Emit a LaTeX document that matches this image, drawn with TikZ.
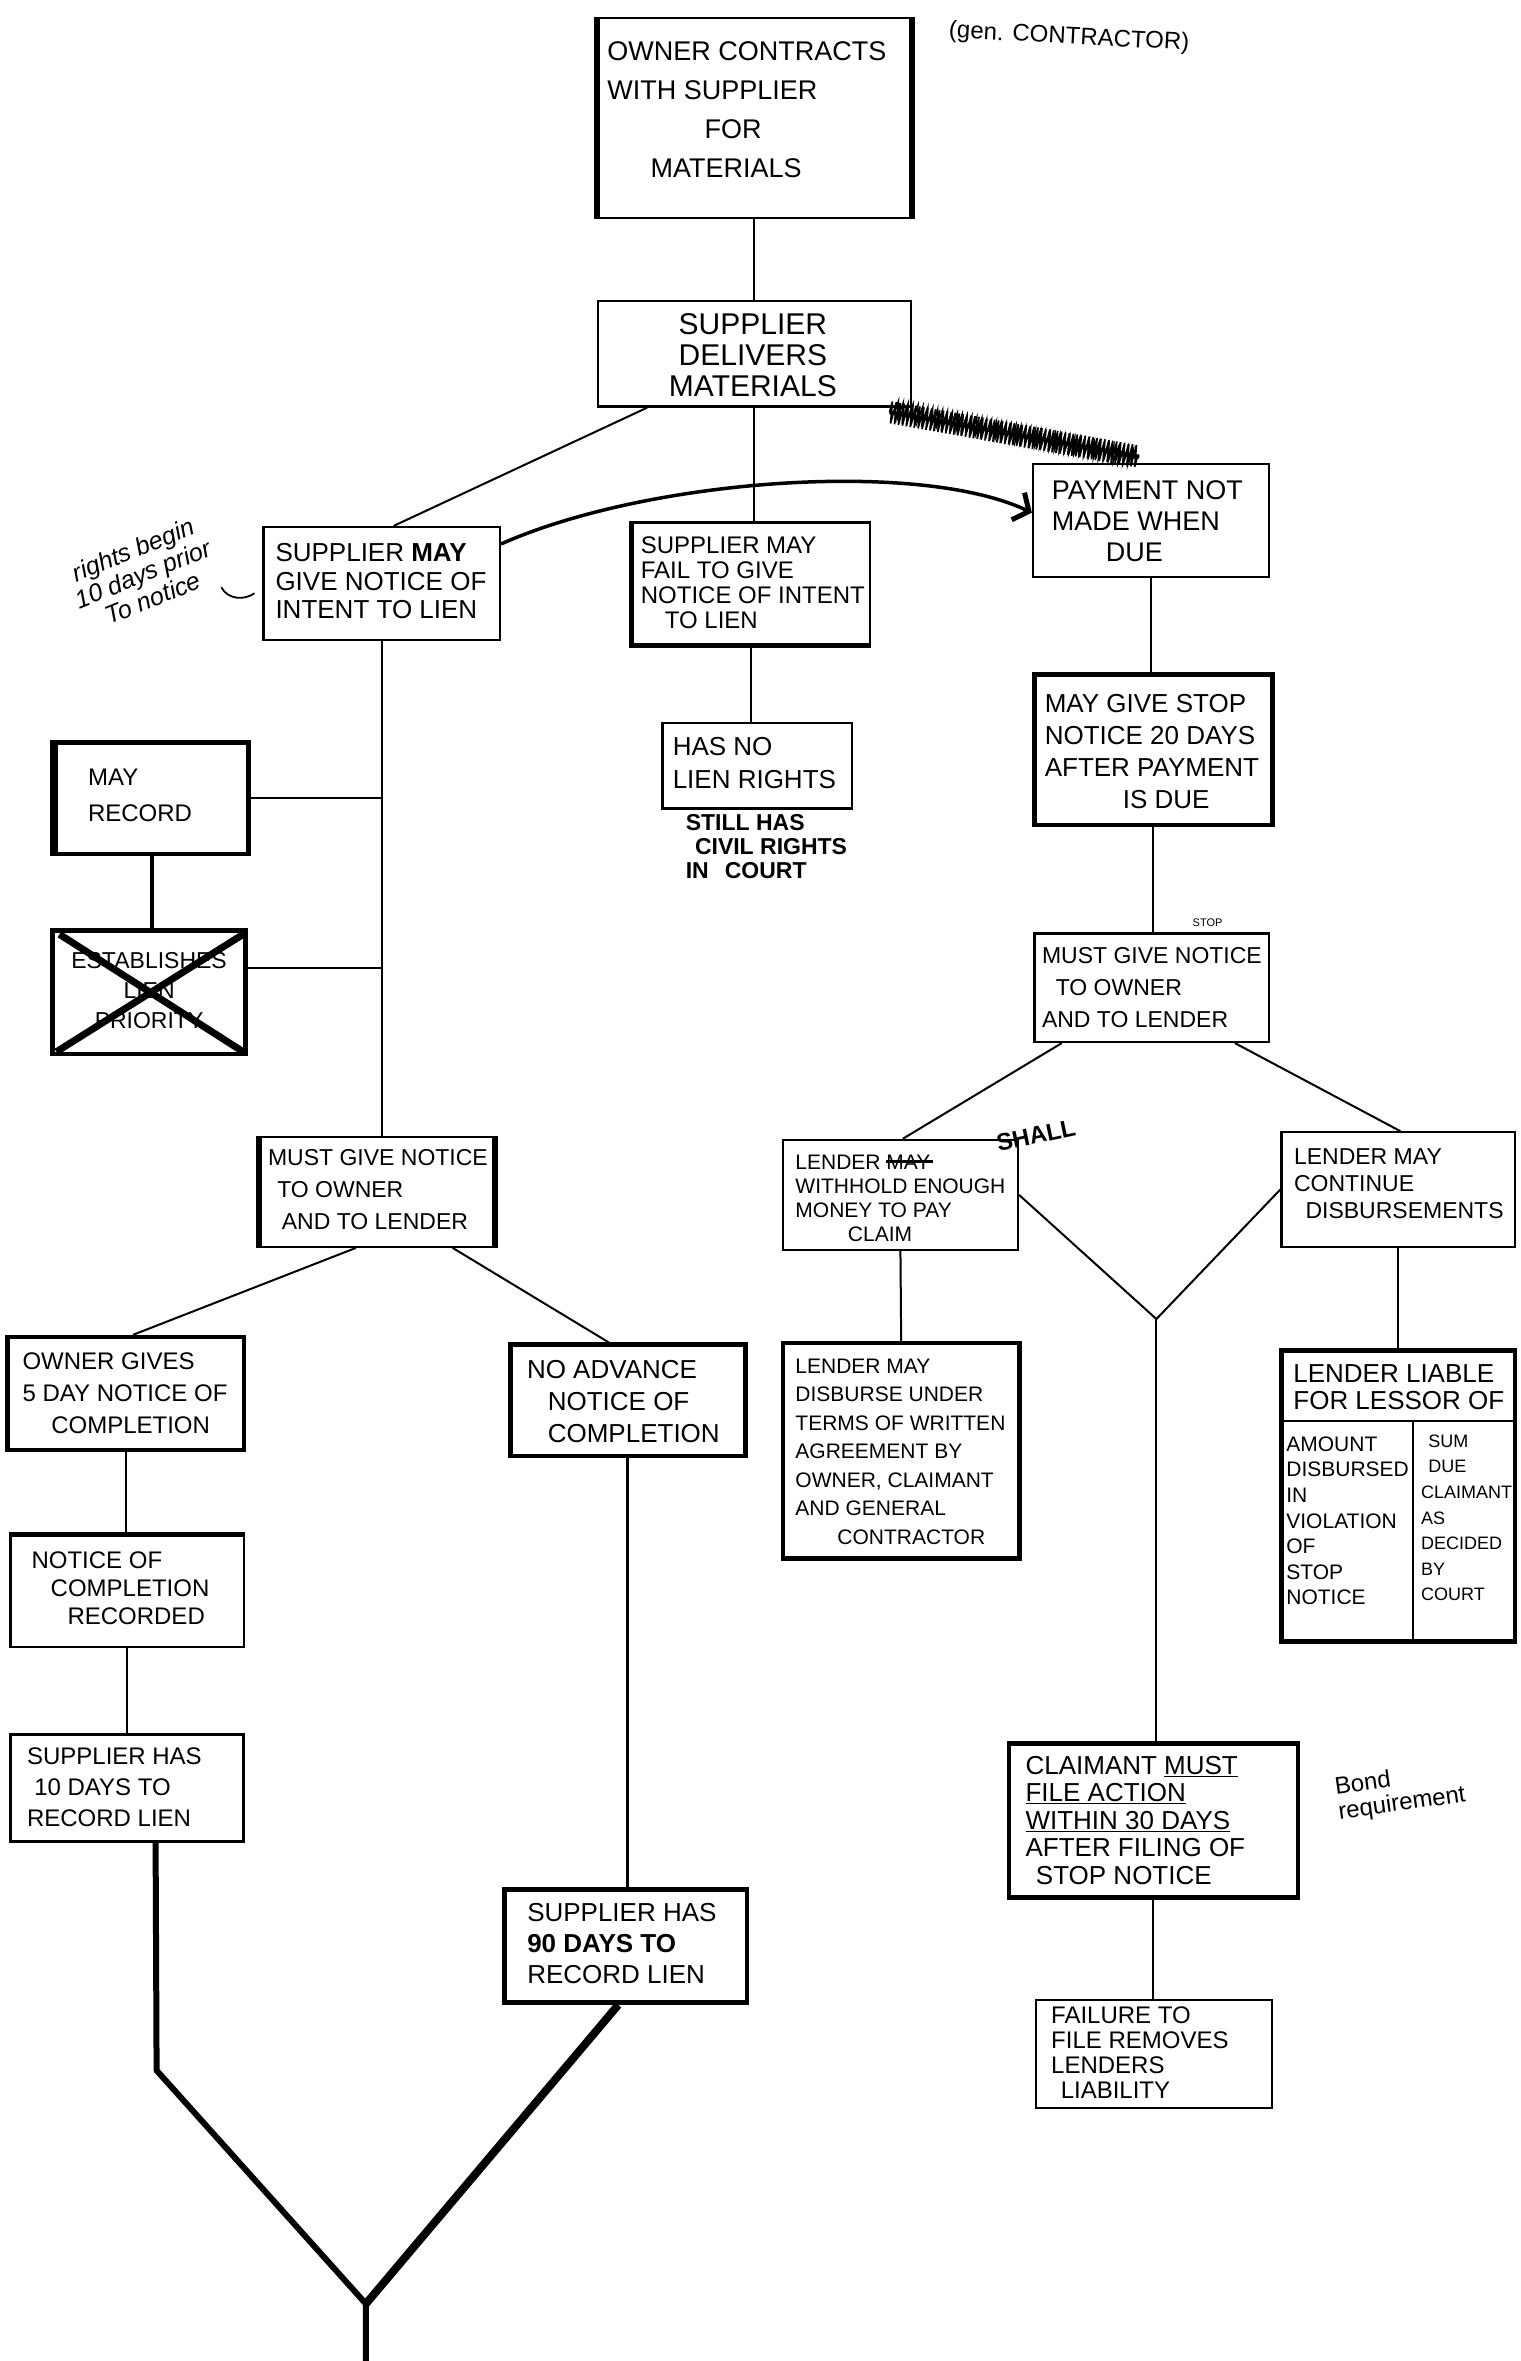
\documentclass[tikz,border=0pt]{standalone}
\usepackage{fontspec}
\setmainfont{Liberation Sans}
\usetikzlibrary{fit,calc,arrows.meta,decorations.pathmorphing}
\newcommand\hfs[2]{\fontsize{#1}{#2}\selectfont}
\newcommand\strk[1]{\leavevmode\rlap{\rule[0.3em]{2.2em}{3pt}}#1}
\begin{document}
\begin{tikzpicture}[x=1.506pt,y=-1.506pt,
  box/.style={draw, line width=2.2pt, inner sep=0pt},
  tbox/.style={draw, line width=4.5pt, inner sep=0pt},
  link/.style={line width=2pt},
  heavy/.style={line width=6pt},
  txt/.style={inner sep=0pt, align=left},
  side/.style={line width=6pt}]
\fill[white] (0,0) rectangle (1010,1568);
\useasboundingbox (0,0) rectangle (1010,1568);

% ---------- boxes ----------
\node[box, fit={(397,12) (605,145)}] (b1) {};
\node[box, fit={(397,200) (605,270)}] (b2) {};
\node[box, fit={(175,350) (332,425)}] (b3) {};
\node[box, fit={(420,347) (578,428)}] (b4) {};
\node[box, fit={(686,308) (843,383)}] (b5) {};
\node[box, fit={(440,480) (566,537)}] (b6) {};
\node[tbox, fit={(687,448) (845,548)}] (b7) {};
\node[box, fit={(687,620) (843,692)}] (b8) {};
\node[box, fit={(520,757) (676,830)}] (b9) {};
\node[box, fit={(851,752) (1006,828)}] (b10) {};
\node[tbox, fit={(520,892) (677,1035)}] (b11) {};
\node[tbox, fit={(851,897) (1006,1090)}] (b12) {};
\node[tbox, fit={(670,1158) (862,1260)}] (b13) {};
\node[box, fit={(688,1328) (845,1400)}] (b14) {};
\node[box, fit={(173,755) (328,828)}] (b15) {};
\node[tbox, fit={(37,493) (165,567)}] (b16) {};
\node[tbox, fit={(35,618) (163,700)}] (b17) {};
\node[tbox, fit={(5,888) (162,963)}] (b18) {};
\node[tbox, fit={(339,893) (495,967)}] (b19) {};
\node[box, fit={(7,1020) (162,1094)}] (b20) {};
\node[box, line width=3pt, fit={(7,1152) (162,1223)}] (b21) {};
\node[tbox, fit={(335,1255) (496,1330)}] (b22) {};

% heavier sides
\draw[side] (b1.north west) -- (b1.south west);
\draw[side] (b1.north east) -- (b1.south east);
\draw[line width=5pt] (b4.north west) -- (b4.south west) -- (b4.south east);
\draw[side] (b15.north west) -- (b15.south west);
\draw[side] (b15.north east) -- (b15.south east);
\draw[line width=5pt] (b20.north west) -- (b20.north east);
\draw[line width=6pt] (b16.north west) -- (b16.south west);

% ---------- texts ----------
\node[txt, font=\hfs{27}{39}] (t1) at (496,73) {OWNER CONTRACTS\\WITH SUPPLIER\\\hspace{3.6em}FOR\\\hspace{1.6em}MATERIALS};
\node[txt, align=center, font=\hfs{30}{31}] (t2) at (500,236) {SUPPLIER\\DELIVERS\\MATERIALS};
\node[txt, font=\hfs{26}{28.5}] (t3) at (253,386) {SUPPLIER \textbf{MAY}\\GIVE NOTICE OF\\INTENT TO LIEN};
\node[txt, font=\hfs{24}{25}] (t4) at (500,387) {SUPPLIER MAY\\FAIL TO GIVE\\NOTICE OF INTENT\\\hspace{1em}TO LIEN};
\node[txt, font=\hfs{27}{31}] (t5) at (762,346) {PAYMENT NOT\\MADE WHEN\\\hspace{2em}DUE};
\node[txt, font=\hfs{26}{33}] (t6) at (501,507) {HAS NO\\LIEN RIGHTS};
\node[txt, font=\bfseries\hfs{23}{24}] (civil) at (509,562) {STILL HAS\\\hspace{0.4em}CIVIL RIGHTS\\IN\hspace{0.7em}COURT};
\node[txt, font=\hfs{26}{32}] (t7) at (765,499) {MAY GIVE STOP\\NOTICE 20 DAYS\\AFTER PAYMENT\\\hspace{3em}IS DUE};
\node[txt, font=\hfs{23}{32}] (t8) at (765,656) {MUST GIVE NOTICE\\\hspace{0.6em}TO OWNER\\AND TO LENDER};
\node[txt, font=\hfs{11}{11}] (stop) at (802,613) {STOP};
\node[txt, font=\hfs{21}{24}] (t9) at (598,796) {LENDER \strk{MAY}\\WITHHOLD ENOUGH\\MONEY TO PAY\\\hspace{2.5em}CLAIM};
\node[txt, font=\bfseries\hfs{24}{24}, rotate=12] (shall) at (688,754) {SHALL};
\node[txt, font=\hfs{23}{27}] (t10) at (929,786) {LENDER MAY\\CONTINUE\\\hspace{0.5em}DISBURSEMENTS};
\node[txt, font=\hfs{21}{28.5}] (t11) at (598,964) {LENDER MAY\\DISBURSE UNDER\\TERMS OF WRITTEN\\AGREEMENT BY\\OWNER, CLAIMANT\\AND GENERAL\\\hspace{2em}CONTRACTOR};
\node[txt, font=\hfs{26}{27}] (t12) at (929,921) {LENDER LIABLE\\FOR LESSOR OF};
\draw[link] ($(b12.north west)+(0,48)$) -- ($(b12.north east)+(0,48)$);
\draw[link] ($(b12.north west)+(89,48)$) -- ($(b12.south west)+(89,0)$);
\node[txt, font=\hfs{21}{25.6}] (t12a) at (895,1010) {AMOUNT\\DISBURSED\\IN\\VIOLATION\\OF\\STOP\\NOTICE};
\node[txt, font=\hfs{18}{25.6}] (t12b) at (974,1008) {\hspace{0.4em}SUM\\\hspace{0.4em}DUE\\CLAIMANT\\AS\\DECIDED\\BY\\COURT};
\node[txt, font=\hfs{26}{27.5}] (t13) at (754,1209) {CLAIMANT \underline{MUST}\\\underline{FILE ACTION}\\\underline{WITHIN 30 DAYS}\\AFTER FILING OF\\\hspace{0.4em}STOP NOTICE};
\node[txt, font=\hfs{24}{25}, rotate=8] (bond) at (930,1190) {Bond\\requirement};
\node[txt, font=\hfs{24}{25}] (t14) at (757,1363) {FAILURE TO\\FILE REMOVES\\LENDERS\\\hspace{0.4em}LIABILITY};
\node[txt, font=\hfs{23}{32}] (t15) at (251,790) {MUST GIVE NOTICE\\\hspace{0.4em}TO OWNER\\\hspace{0.6em}AND TO LENDER};
\node[txt, font=\hfs{24}{36}] (t16) at (93,528) {MAY\\RECORD};
\node[txt, align=center, font=\hfs{23}{30}] (t17) at (99,658) {ESTABLISHES\\LIEN\\PRIORITY};
\draw[line width=7pt] ($(b17.north west)+(6,4)$) -- ($(b17.south east)+(-3,-3)$);
\draw[line width=7pt] ($(b17.north east)+(-3,4)$) -- ($(b17.south west)+(4,-3)$);
\node[txt, font=\hfs{24}{32}] (t18) at (83,925) {OWNER GIVES\\5 DAY NOTICE OF\\\hspace{1.2em}COMPLETION};
\node[txt, font=\hfs{26}{32}] (t19) at (414,931) {NO ADVANCE\\\hspace{0.8em}NOTICE OF\\\hspace{0.8em}COMPLETION};
\node[txt, font=\hfs{24}{28}] (t20) at (80,1055) {NOTICE OF\\\hspace{0.8em}COMPLETION\\\hspace{1.5em}RECORDED};
\node[txt, font=\hfs{24}{31}] (t21) at (76,1187) {SUPPLIER HAS\\\hspace{0.3em}10 DAYS TO\\RECORD LIEN};
\node[txt, font=\hfs{26}{31}] (t22) at (413,1291) {SUPPLIER HAS\\\textbf{90 DAYS TO}\\RECORD LIEN};

% annotations
\node[txt, align=center, font=\itshape\hfs{25}{26}, rotate=22] (rights) at (95,381) {rights begin\\10 days prior\\To notice};
\draw[line width=1.8pt] (147,390) .. controls (151,398) and (162,399) .. (169,394);
\node[txt, font=\hfs{24}{24}, rotate=-3] (gen) at (710,25) {(gen. CONTRACTOR)};

% ---------- connectors ----------
\draw[link] (b1.south) -- (b2.north);
\draw[link] ($(b2.south west)!0.16!(b2.south east)$) -- ($(b3.north west)!0.55!(b3.north east)$);
\draw[link] (b2.south) -- (b2.south |- b4.north);
\coordinate (s1) at ($(b2.south east)+(-15,3)$);
\coordinate (s2) at ($(b5.north west)!0.45!(b5.north east)+(0,-4)$);
\draw[line width=4pt] (s1) -- (s2);
\draw[line width=1.6pt, decorate, decoration={zigzag, segment length=4pt, amplitude=11pt}] (s1) -- (s2);
\draw[line width=1.6pt, decorate, decoration={zigzag, segment length=5pt, amplitude=8pt}] ($(s1)+(4,-2)$) -- ($(s2)+(-3,1)$);
\draw[line width=3.5pt, -{Straight Barb[length=12pt,width=30pt,line width=5pt]}]
  ($(b3.north east)+(0,12)$) .. controls (430,318) and (610,305) .. ($(b5.west)+(0,-5)$);
\draw[link] (b4.south) -- (b4.south |- b6.north);
\draw[link] (b5.south) -- (b5.south |- b7.north);
\draw[link] (b7.south) -- (b7.south |- b8.north);
\draw[link] ($(b8.south west)!0.12!(b8.south east)$) -- ($(b9.north west)!0.51!(b9.north east)$);
\draw[link] ($(b8.south west)!0.85!(b8.south east)$) -- ($(b10.north west)!0.51!(b10.north east)$);
\coordinate (v) at (768,876);
\draw[link] (b9.east) -- (v) -- (b10.west);
\draw[link] (v) -- (v |- b13.north);
\draw[link] ($(b9.south west)!0.5!(b9.south east)$) -- ($(b11.north west)!0.5!(b11.north east)$);
\draw[link] (b10.south) -- (b10.south |- b12.north);
\draw[link] (b13.south) -- (b13.south |- b14.north);
% left side
\draw[link] (b3.south) -- (b3.south |- b15.north);
\draw[link] (b16.east) -- (b16.east -| b3.south);
\coordinate (c17) at ($(b17.east)+(0,-16)$);
\draw[link] (c17) -- (c17 -| b3.south);
\draw[line width=4pt] (b16.south) -- (b16.south |- b17.north);
\draw[link] ($(b15.south west)!0.41!(b15.south east)$) -- ($(b18.north west)!0.53!(b18.north east)$);
\draw[link] ($(b15.south west)!0.82!(b15.south east)$) -- ($(b19.north west)!0.42!(b19.north east)$);
\draw[link] (b18.south) -- (b18.south |- b20.north);
\draw[link] (b20.south) -- (b20.south |- b21.north);
\draw[line width=3pt] (b19.south) -- (b19.south |- b22.north);
\coordinate (k1) at (104,1375);
\coordinate (m) at (243,1530);
\coordinate (tail) at (243,1575);
\draw[heavy, line join=round] ($(b21.south west)!0.62!(b21.south east)$) -- (k1) -- (m) -- (tail);
\draw[line width=8pt] ($(b22.south west)!0.47!(b22.south east)$) -- (m);
\end{tikzpicture}
\end{document}
